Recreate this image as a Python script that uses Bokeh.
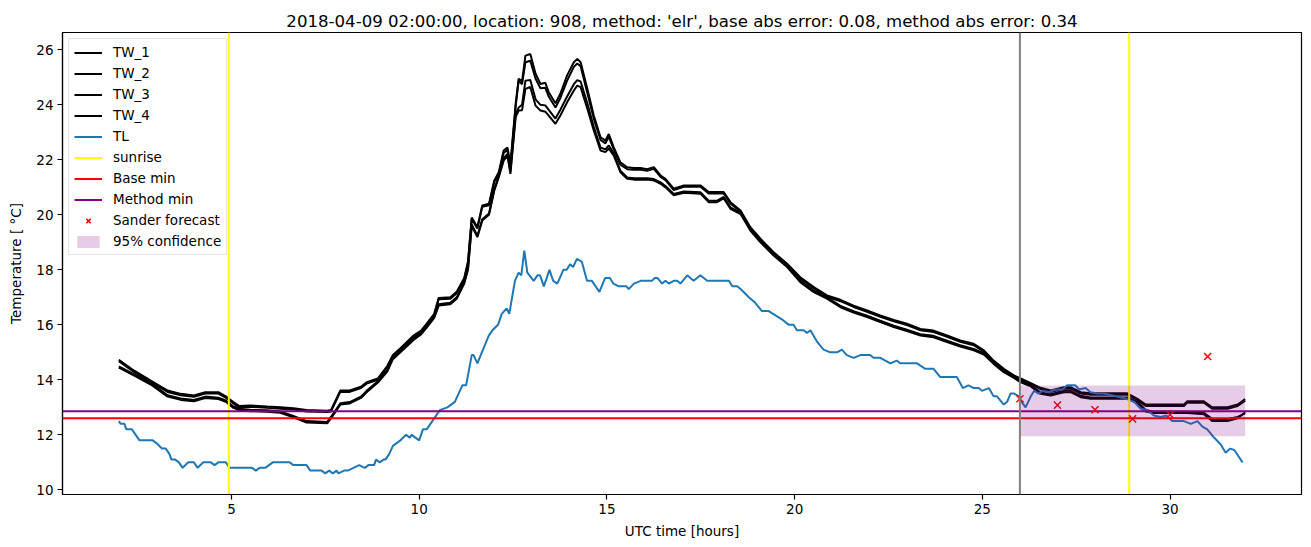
from bokeh.plotting import figure
from bokeh.models import Range1d, Span, Legend, LegendItem, FixedTicker
from bokeh.embed import file_html
from bokeh.resources import INLINE

# ---------------- data ----------------
tw_hours = [
    2.0, 2.4, 2.85, 3.3, 3.65, 4.0, 4.3, 4.65, 4.85, 5.05,
    5.2, 5.5, 5.95, 6.3, 6.65, 7.0, 7.55, 7.65, 7.9, 8.15,
    8.45, 8.6, 8.9, 9.15, 9.3, 9.5, 9.85, 10.05, 10.2, 10.4,
    10.52, 10.83, 11.0, 11.2, 11.3, 11.4, 11.55, 11.68, 11.86, 12.0,
    12.12, 12.25, 12.35, 12.43, 12.57, 12.65, 12.74, 12.83, 12.96, 13.1,
    13.23, 13.36, 13.45, 13.63, 13.76, 13.94, 14.12, 14.21, 14.3, 14.48,
    14.65, 14.83, 14.96, 15.05, 15.18, 15.36, 15.54, 15.72, 15.9, 16.07,
    16.25, 16.43, 16.56, 16.78, 17.05, 17.49, 17.71, 17.93, 18.11, 18.29,
    18.56, 18.82, 19.09, 19.44, 19.8, 20.15, 20.51, 20.86, 21.22, 21.57,
    21.93, 22.28, 22.64, 22.99, 23.35, 23.7, 24.06, 24.41, 24.77, 25.04,
    25.3, 25.57, 25.84, 26.02, 26.29, 26.55, 26.82, 27.17, 27.35, 27.62,
    27.88, 28.24, 28.86, 29.13, 29.35, 29.57, 30.37, 30.46, 30.9, 31.12,
    31.53, 31.8, 32.0,
]

tw_1 = [
    14.73, 14.34, 13.97, 13.61, 13.49, 13.43, 13.55, 13.55, 13.40, 13.19,
    13.05, 13.07, 13.03, 13.00, 12.97, 12.90, 12.88, 12.90, 13.61, 13.61,
    13.75, 13.91, 14.05, 14.50, 14.90, 15.15, 15.61, 15.79, 16.04, 16.40,
    16.98, 17.00, 17.20, 17.70, 18.30, 19.90, 19.55, 20.34, 20.40, 21.25,
    21.55, 22.34, 22.45, 21.85, 24.04, 24.95, 24.85, 25.79, 25.85, 25.13,
    24.76, 24.80, 24.46, 24.06, 24.40, 25.07, 25.55, 25.67, 25.55, 24.58,
    23.61, 22.82, 22.70, 22.94, 22.46, 21.91, 21.73, 21.70, 21.70, 21.66,
    21.73, 21.43, 21.31, 20.95, 21.07, 21.07, 20.83, 20.83, 20.83, 20.46,
    20.16, 19.55, 19.13, 18.64, 18.22, 17.73, 17.37, 17.07, 16.91, 16.70,
    16.52, 16.34, 16.18, 16.04, 15.85, 15.79, 15.61, 15.43, 15.31, 15.07,
    14.70, 14.40, 14.16, 14.05, 13.88, 13.71, 13.61, 13.73, 13.73, 13.55,
    13.51, 13.51, 13.51, 13.31, 13.10, 13.10, 13.10, 13.22, 13.22, 13.00,
    13.00, 13.10, 13.30,
]

tw_2 = [
    14.68, 14.29, 13.92, 13.56, 13.44, 13.38, 13.50, 13.50, 13.35, 13.14,
    13.00, 13.02, 12.98, 12.95, 12.92, 12.85, 12.83, 12.85, 13.56, 13.56,
    13.70, 13.86, 14.00, 14.45, 14.85, 15.10, 15.56, 15.74, 15.99, 16.35,
    16.93, 16.95, 17.15, 17.65, 18.25, 19.85, 19.50, 20.29, 20.35, 21.20,
    21.48, 22.25, 22.36, 21.75, 23.95, 24.88, 24.75, 25.55, 25.60, 24.95,
    24.60, 24.62, 24.30, 23.90, 24.25, 24.88, 25.38, 25.50, 25.40, 24.42,
    23.50, 22.72, 22.60, 22.84, 22.38, 21.82, 21.66, 21.64, 21.64, 21.60,
    21.67, 21.38, 21.26, 20.90, 21.02, 21.02, 20.78, 20.78, 20.78, 20.41,
    20.11, 19.50, 19.08, 18.59, 18.17, 17.68, 17.32, 17.02, 16.86, 16.65,
    16.47, 16.29, 16.13, 15.99, 15.80, 15.74, 15.56, 15.38, 15.26, 15.02,
    14.65, 14.35, 14.11, 14.00, 13.83, 13.66, 13.56, 13.68, 13.68, 13.50,
    13.46, 13.46, 13.46, 13.26, 13.05, 13.05, 13.05, 13.17, 13.17, 12.95,
    12.95, 13.05, 13.24,
]

tw_3 = [
    14.49, 14.21, 13.88, 13.44, 13.32, 13.27, 13.39, 13.35, 13.25, 13.03,
    12.95, 12.91, 12.89, 12.85, 12.69, 12.50, 12.47, 12.65, 13.15, 13.19,
    13.39, 13.60, 13.95, 14.35, 14.80, 15.05, 15.50, 15.70, 15.95, 16.30,
    16.75, 16.80, 17.00, 17.55, 18.05, 19.65, 19.24, 19.84, 20.05, 20.93,
    21.42, 22.05, 22.22, 21.58, 23.65, 23.90, 24.00, 24.88, 24.90, 24.20,
    24.00, 23.98, 23.82, 23.50, 23.82, 24.30, 24.75, 24.90, 24.85, 24.05,
    23.20, 22.45, 22.38, 22.52, 22.24, 21.60, 21.36, 21.33, 21.33, 21.33,
    21.30, 21.18, 21.05, 20.76, 20.85, 20.82, 20.51, 20.51, 20.65, 20.27,
    20.08, 19.48, 19.05, 18.57, 18.15, 17.60, 17.24, 17.00, 16.69, 16.50,
    16.33, 16.15, 15.97, 15.82, 15.66, 15.60, 15.42, 15.26, 15.12, 14.97,
    14.63, 14.33, 14.12, 13.96, 13.81, 13.54, 13.48, 13.60, 13.60, 13.42,
    13.36, 13.36, 13.36, 13.20, 12.90, 12.84, 12.84, 12.84, 12.80, 12.58,
    12.58, 12.65, 12.78,
]

tw_4 = [
    14.44, 14.16, 13.83, 13.39, 13.27, 13.22, 13.34, 13.30, 13.20, 12.98,
    12.90, 12.86, 12.84, 12.80, 12.64, 12.45, 12.42, 12.60, 13.10, 13.14,
    13.34, 13.55, 13.90, 14.30, 14.75, 15.00, 15.45, 15.65, 15.90, 16.25,
    16.70, 16.75, 16.95, 17.50, 18.00, 19.60, 19.19, 19.79, 20.00, 20.88,
    21.37, 21.97, 22.15, 21.49, 23.55, 23.79, 23.80, 24.58, 24.65, 23.97,
    23.79, 23.75, 23.61, 23.31, 23.61, 24.09, 24.52, 24.70, 24.64, 23.85,
    23.07, 22.34, 22.28, 22.41, 22.16, 21.55, 21.31, 21.28, 21.28, 21.28,
    21.25, 21.13, 21.00, 20.71, 20.80, 20.77, 20.46, 20.46, 20.60, 20.22,
    20.03, 19.43, 19.00, 18.52, 18.10, 17.55, 17.19, 16.95, 16.64, 16.45,
    16.28, 16.10, 15.92, 15.77, 15.61, 15.55, 15.37, 15.21, 15.07, 14.92,
    14.58, 14.28, 14.07, 13.91, 13.76, 13.49, 13.43, 13.55, 13.55, 13.37,
    13.31, 13.31, 13.31, 13.15, 12.85, 12.79, 12.79, 12.79, 12.75, 12.50,
    12.50, 12.60, 12.82,
]

tl_hours = [
    2.0, 2.05, 2.15, 2.2, 2.35, 2.45, 2.55, 2.9, 3.0, 3.15,
    3.25, 3.35, 3.4, 3.5, 3.6, 3.7, 3.85, 4.0, 4.1, 4.25,
    4.45, 4.55, 4.65, 4.85, 4.95, 5.55, 5.65, 5.75, 5.9, 6.1,
    6.55, 6.65, 7.0, 7.1, 7.4, 7.5, 7.6, 7.7, 7.8, 7.85,
    8.0, 8.1, 8.25, 8.4, 8.55, 8.65, 8.8, 8.85, 8.95, 9.05,
    9.1, 9.2, 9.3, 9.5, 9.65, 9.75, 9.8, 9.9, 10.0, 10.1,
    10.2, 10.4, 10.55, 10.75, 10.95, 11.05, 11.15, 11.25, 11.4, 11.45,
    11.55, 11.85, 11.95, 12.1, 12.2, 12.33, 12.4, 12.55, 12.65, 12.72,
    12.8, 12.88, 13.05, 13.15, 13.22, 13.32, 13.47, 13.57, 13.68, 13.84,
    13.93, 14.02, 14.1, 14.2, 14.33, 14.47, 14.6, 14.8, 14.95, 15.08,
    15.17, 15.32, 15.52, 15.58, 15.72, 15.9, 16.2, 16.27, 16.35, 16.47,
    16.56, 16.65, 16.78, 16.87, 16.96, 17.14, 17.31, 17.49, 17.67, 18.25,
    18.34, 18.47, 18.56, 18.78, 18.95, 19.13, 19.31, 19.66, 19.75, 19.85,
    19.97, 20.06, 20.24, 20.33, 20.42, 20.59, 20.77, 20.95, 21.13, 21.26,
    21.39, 21.57, 21.75, 22.01, 22.1, 22.28, 22.55, 22.72, 22.81, 23.26,
    23.48, 23.7, 23.88, 24.06, 24.32, 24.48, 24.63, 24.77, 24.9, 24.99,
    25.17, 25.3, 25.39, 25.57, 25.66, 25.75, 25.85, 25.97, 26.02, 26.15,
    26.29, 26.38, 26.5, 26.6, 26.77, 26.95, 27.13, 27.26, 27.48, 27.57,
    27.75, 27.88, 28.06, 28.24, 28.55, 28.86, 29.04, 29.22, 29.39, 29.57,
    29.75, 29.9, 30.06, 30.37, 30.55, 30.73, 30.86, 30.99, 31.17, 31.35,
    31.48, 31.6, 31.71, 31.93,
]

tl_temp = [
    12.5, 12.4, 12.4, 12.2, 12.2, 12.0, 11.8, 11.8, 11.7, 11.5,
    11.5, 11.3, 11.1, 11.1, 11.0, 10.8, 11.0, 11.0, 10.8, 11.0,
    11.0, 10.9, 11.0, 11.0, 10.8, 10.8, 10.7, 10.8, 10.8, 11.0,
    11.0, 10.9, 10.9, 10.7, 10.7, 10.6, 10.7, 10.6, 10.7, 10.6,
    10.7, 10.7, 10.8, 10.9, 10.8, 10.9, 10.9, 11.1, 11.0, 11.1,
    11.1, 11.3, 11.6, 11.8, 12.0, 11.9, 12.0, 11.9, 11.8, 12.2,
    12.2, 12.6, 12.9, 13.0, 13.2, 13.5, 13.8, 13.8, 14.9, 14.9,
    14.6, 15.6, 15.8, 16.0, 16.4, 16.6, 16.4, 17.6, 17.9, 17.8,
    18.7, 17.9, 17.6, 17.8, 17.8, 17.4, 18.0, 17.6, 17.5, 18.0,
    18.0, 18.2, 18.1, 18.4, 18.3, 17.6, 17.6, 17.2, 17.7, 17.7,
    17.5, 17.4, 17.4, 17.3, 17.5, 17.6, 17.6, 17.7, 17.7, 17.5,
    17.6, 17.5, 17.6, 17.6, 17.5, 17.8, 17.6, 17.8, 17.6, 17.6,
    17.4, 17.4, 17.3, 17.0, 16.8, 16.5, 16.5, 16.2, 16.1, 16.0,
    16.0, 15.8, 15.8, 15.7, 15.8, 15.4, 15.1, 15.0, 15.0, 15.1,
    14.9, 14.8, 14.9, 14.9, 14.8, 14.8, 14.6, 14.7, 14.6, 14.6,
    14.4, 14.4, 14.1, 14.1, 14.1, 13.7, 13.8, 13.7, 13.7, 13.6,
    13.7, 13.4, 13.4, 13.1, 13.2, 13.5, 13.5, 13.4, 13.25, 13.0,
    13.4, 13.6, 13.5, 13.6, 13.55, 13.65, 13.65, 13.8, 13.8, 13.65,
    13.7, 13.55, 13.5, 13.5, 13.4, 13.3, 13.2, 12.95, 12.9, 12.7,
    12.65, 12.7, 12.5, 12.5, 12.4, 12.5, 12.3, 12.2, 11.9, 11.65,
    11.35, 11.5, 11.45, 11.0,
]

sunrise_hours = [4.93, 28.91]
forecast_start = 26.0
base_min = 12.6
method_min = 12.86

sander_hours = [26, 27, 28, 29, 30, 31]
sander_temp = [13.31, 13.08, 12.91, 12.58, 12.73, 14.85]

conf_start = [26.0]
conf_end = [32.0]
conf_low = [11.95]
conf_high = [13.79]

x_ticks = [5, 10, 15, 20, 25, 30]
y_ticks = [10, 12, 14, 16, 18, 20, 22, 24, 26]

x_lim = (0.5, 33.5)
y_lim = (9.83, 26.63)

title_text = ("2018-04-09 02:00:00, location: 908, method: 'elr', "
              "base abs error: 0.08, method abs error: 0.34")

# ---------------- figure ----------------
FONT = "DejaVu Sans"
TXT = "black"

p = figure(width=1311, height=547, output_backend="svg", toolbar_location=None,
           x_range=Range1d(*x_lim), y_range=Range1d(*y_lim),
           min_border_left=62, min_border_right=10, min_border_top=32,
           min_border_bottom=53, title=title_text)

p.title.align = "center"
p.title.text_font = FONT
p.title.text_font_size = "16.6px"
p.title.text_font_style = "normal"
p.title.text_color = TXT
p.title.standoff = 4

p.xgrid.visible = False
p.ygrid.visible = False
p.outline_line_color = "black"
p.outline_line_width = 1.2
p.background_fill_color = "white"
p.border_fill_color = "white"

for ax in (p.xaxis[0], p.yaxis[0]):
    ax.major_label_text_font = FONT
    ax.major_label_text_font_size = "13.5px"
    ax.major_label_text_color = TXT
    ax.axis_label_text_font = FONT
    ax.axis_label_text_font_size = "13.5px"
    ax.axis_label_text_font_style = "normal"
    ax.axis_label_text_color = TXT
    ax.minor_tick_line_color = None
    ax.major_tick_in = 0
    ax.major_tick_out = 5
    ax.axis_line_color = "black"
    ax.axis_line_width = 1.2
    ax.major_tick_line_color = "black"
    ax.major_tick_line_width = 1.2
    ax.major_label_standoff = 4

p.xaxis.ticker = FixedTicker(ticks=x_ticks)
p.yaxis.ticker = FixedTicker(ticks=y_ticks)
p.xaxis.axis_label = "UTC time [hours]"
p.yaxis.axis_label = "Temperature [ \u00b0C]"
p.xaxis.axis_label_standoff = 6
p.yaxis.axis_label_standoff = 9

items = []
for name, vals in [("TW_1", tw_1), ("TW_2", tw_2), ("TW_3", tw_3), ("TW_4", tw_4)]:
    r = p.line(tw_hours, vals, line_color="black", line_width=2)
    items.append(LegendItem(label=name, renderers=[r]))

r_tl = p.line(tl_hours, tl_temp, line_color="#1f77b4", line_width=2)
items.append(LegendItem(label="TL", renderers=[r_tl]))

# sunrise: vertical lines over the whole y range
r_sun = p.segment(x0=sunrise_hours, x1=sunrise_hours,
                  y0=[y_lim[0]] * len(sunrise_hours), y1=[y_lim[1]] * len(sunrise_hours),
                  line_color="yellow", line_width=2)
items.append(LegendItem(label="sunrise", renderers=[r_sun]))

r_base = p.segment(x0=[x_lim[0]], x1=[x_lim[1]], y0=[base_min], y1=[base_min],
                   line_color="red", line_width=2)
items.append(LegendItem(label="Base min", renderers=[r_base]))

r_meth = p.segment(x0=[x_lim[0]], x1=[x_lim[1]], y0=[method_min], y1=[method_min],
                   line_color="purple", line_width=2)
items.append(LegendItem(label="Method min", renderers=[r_meth]))

r_sander = p.scatter(sander_hours, sander_temp, marker="x", size=10,
                     line_color="red", line_width=1.5)
items.append(LegendItem(label="Sander forecast", renderers=[r_sander]))

r_conf = p.quad(left=conf_start, right=conf_end, bottom=conf_low, top=conf_high,
                fill_color="purple", fill_alpha=0.2, line_color=None)
items.append(LegendItem(label="95% confidence", renderers=[r_conf]))

p.add_layout(Span(location=forecast_start, dimension="height", line_color="grey", line_width=2))

legend = Legend(items=items, location="top_left")
legend.margin = 6
legend.padding = 5
legend.spacing = 5
legend.glyph_height = 15
legend.label_height = 15
legend.glyph_width = 28
legend.label_standoff = 11
legend.label_text_font = FONT
legend.label_text_font_size = "13.5px"
legend.label_text_color = TXT
legend.border_line_color = "#cccccc"
legend.border_line_width = 1
legend.background_fill_alpha = 0.8
p.add_layout(legend)

open("out.html", "w").write(file_html(p, INLINE))
